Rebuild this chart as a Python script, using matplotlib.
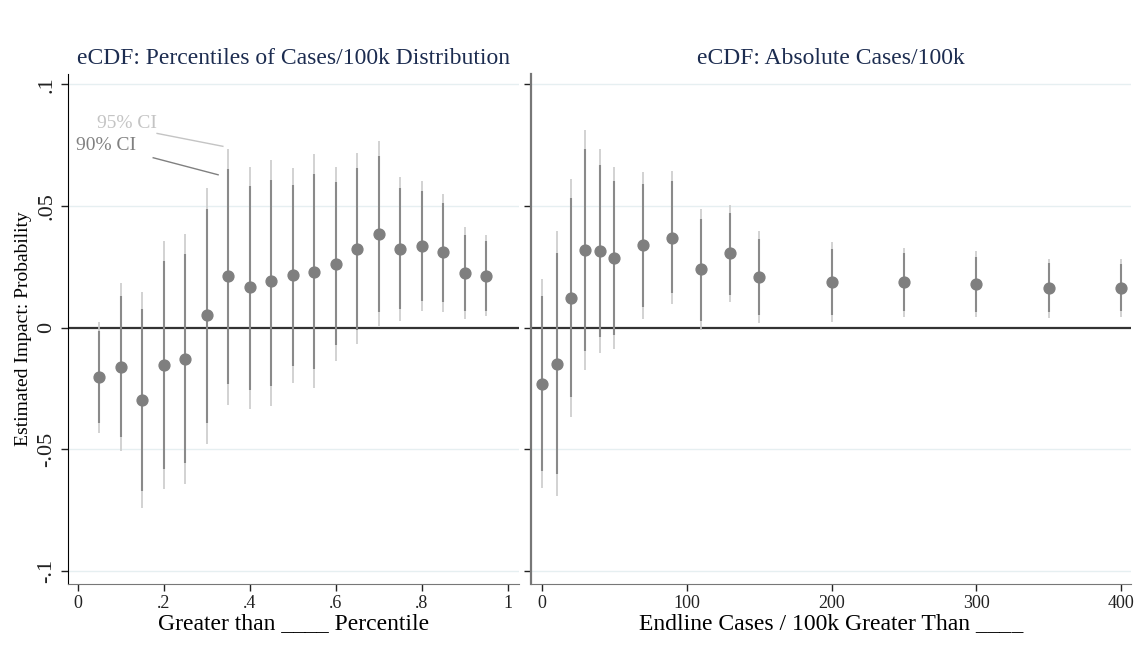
import numpy as np
import matplotlib
matplotlib.use("Agg")
import matplotlib.pyplot as plt

plt.rcParams['font.family'] = ['Liberation Serif', 'DejaVu Serif']

# left panel: percentiles of cases/100k distribution
pct_x = [0.05, 0.10, 0.15, 0.20, 0.25, 0.30, 0.35, 0.40, 0.45, 0.50,
         0.55, 0.60, 0.65, 0.70, 0.75, 0.80, 0.85, 0.90, 0.95]
pct_est = [-0.0204, -0.0162, -0.0298, -0.0154, -0.0128, 0.0050, 0.0211, 0.0165, 0.0190, 0.0217,
           0.0230, 0.0262, 0.0325, 0.0386, 0.0324, 0.0336, 0.0309, 0.0224, 0.0213]
pct_lo95 = [-0.0431, -0.0509, -0.0742, -0.0665, -0.0641, -0.0479, -0.0318, -0.0335, -0.0321, -0.0229,
            -0.0250, -0.0136, -0.0067, 0.0008, 0.0029, 0.0069, 0.0066, 0.0036, 0.0047]
pct_hi95 = [0.0022, 0.0185, 0.0148, 0.0354, 0.0386, 0.0573, 0.0735, 0.0660, 0.0687, 0.0657,
            0.0712, 0.0661, 0.0719, 0.0765, 0.0619, 0.0601, 0.0550, 0.0412, 0.0379]
pct_lo90 = [-0.0394, -0.0451, -0.0671, -0.0582, -0.0558, -0.0394, -0.0232, -0.0255, -0.0239, -0.0158,
            -0.0172, -0.0073, -0.0010, 0.0066, 0.0075, 0.0111, 0.0107, 0.0069, 0.0070]
pct_hi90 = [-0.0012, 0.0128, 0.0076, 0.0272, 0.0303, 0.0488, 0.0650, 0.0580, 0.0608, 0.0586,
            0.0632, 0.0597, 0.0654, 0.0705, 0.0573, 0.0560, 0.0512, 0.0381, 0.0354]

# right panel: absolute cases/100k
abs_x = [0, 10, 20, 30, 40, 50, 70, 90, 110, 130, 150, 200, 250, 300, 350, 400]
abs_est = [-0.0232, -0.0148, 0.0122, 0.0320, 0.0316, 0.0287, 0.0339, 0.0369, 0.0239, 0.0305,
           0.0209, 0.0188, 0.0188, 0.0180, 0.0163, 0.0163]
abs_lo95 = [-0.0661, -0.0691, -0.0366, -0.0174, -0.0106, -0.0089, 0.0036, 0.0095, -0.0010, 0.0104,
            0.0021, 0.0023, 0.0042, 0.0042, 0.0040, 0.0045]
abs_hi95 = [0.0198, 0.0395, 0.0612, 0.0814, 0.0735, 0.0661, 0.0639, 0.0642, 0.0487, 0.0505,
            0.0396, 0.0350, 0.0329, 0.0314, 0.0284, 0.0281]
abs_lo90 = [-0.0591, -0.0602, -0.0287, -0.0095, -0.0037, -0.0029, 0.0084, 0.0141, 0.0029, 0.0136,
            0.0051, 0.0051, 0.0067, 0.0066, 0.0065, 0.0070]
abs_hi90 = [0.0128, 0.0307, 0.0532, 0.0733, 0.0667, 0.0601, 0.0591, 0.0601, 0.0447, 0.0472,
            0.0366, 0.0324, 0.0306, 0.0292, 0.0265, 0.0262]

y_ticks = [-0.1, -0.05, 0, 0.05, 0.1]
y_tick_labels = ['-.1', '-.05', '0', '.05', '.1']
pct_ticks = [0, 0.2, 0.4, 0.6, 0.8, 1]
pct_tick_labels = ['0', '.2', '.4', '.6', '.8', '1']
abs_ticks = [0, 100, 200, 300, 400]

title_color = '#1c2c50'
c95 = '#cbcbcb'
c90 = '#8a8a8a'
cpt = '#7f7f7f'

fig = plt.figure(figsize=(11.44, 6.67), dpi=100)
ax1 = fig.add_axes([0.0594, 0.125, 0.3942, 0.764])
ax2 = fig.add_axes([0.4642, 0.125, 0.5245, 0.764])


def draw_panel(ax, x, est, lo95, hi95, lo90, hi90):
    for yv in y_ticks:
        if yv != 0:
            ax.axhline(yv, color='#e6eff1', lw=1, zorder=0)
    ax.axhline(0, color='#333333', lw=1.6, zorder=1)
    ax.vlines(x, lo95, hi95, color=c95, lw=1.2, zorder=2)
    ax.vlines(x, lo90, hi90, color=c90, lw=1.5, zorder=3)
    ax.plot(x, est, 'o', color=cpt, ms=7.8, zorder=4)
    ax.set_ylim(-0.1052, 0.1042)
    ax.set_yticks(y_ticks)
    ax.spines['top'].set_visible(False)
    ax.spines['right'].set_visible(False)
    ax.spines['bottom'].set_color('#777777')
    ax.tick_params(axis='x', length=5, width=1, labelsize=13, pad=3, colors='#222222')
    ax.tick_params(axis='y', length=5, width=1, colors='#222222')


draw_panel(ax1, pct_x, pct_est, pct_lo95, pct_hi95, pct_lo90, pct_hi90)
draw_panel(ax2, abs_x, abs_est, abs_lo95, abs_hi95, abs_lo90, abs_hi90)

ax1.set_xlim(-0.0233, 1.0256)
ax1.set_xticks(pct_ticks)
ax1.set_xticklabels(pct_tick_labels)
ax1.set_yticklabels(y_tick_labels, rotation=90, va='center', fontsize=16)
ax1.spines['left'].set_color('black')
ax1.set_ylabel('Estimated Impact: Probability', fontsize=14, labelpad=4)
ax1.set_xlabel('Greater than ____ Percentile', fontsize=17, labelpad=1)
ax1.set_title('eCDF: Percentiles of Cases/100k Distribution', fontsize=17,
              color=title_color, pad=7)

ax2.set_xlim(-7.6, 406.9)
ax2.set_xticks(abs_ticks)
ax2.set_yticklabels([])
ax2.spines['left'].set_color('#777777')
ax2.spines['left'].set_linewidth(1.6)
ax2.set_xlabel('Endline Cases / 100k Greater Than ____', fontsize=17, labelpad=1)
ax2.set_title('eCDF: Absolute Cases/100k', fontsize=17, color=title_color, pad=7)

# CI labels
ax1.text(0.044, 0.0840, '95% CI', color='#c4c4c4', fontsize=14, va='center', ha='left')
ax1.plot([0.184, 0.337], [0.0798, 0.0745], color='#c4c4c4', lw=1.0)
ax1.text(-0.005, 0.0748, '90% CI', color='#808080', fontsize=14, va='center', ha='left')
ax1.plot([0.175, 0.326], [0.0698, 0.0628], color='#808080', lw=1.0)

fig.savefig('out.png', dpi=100)
